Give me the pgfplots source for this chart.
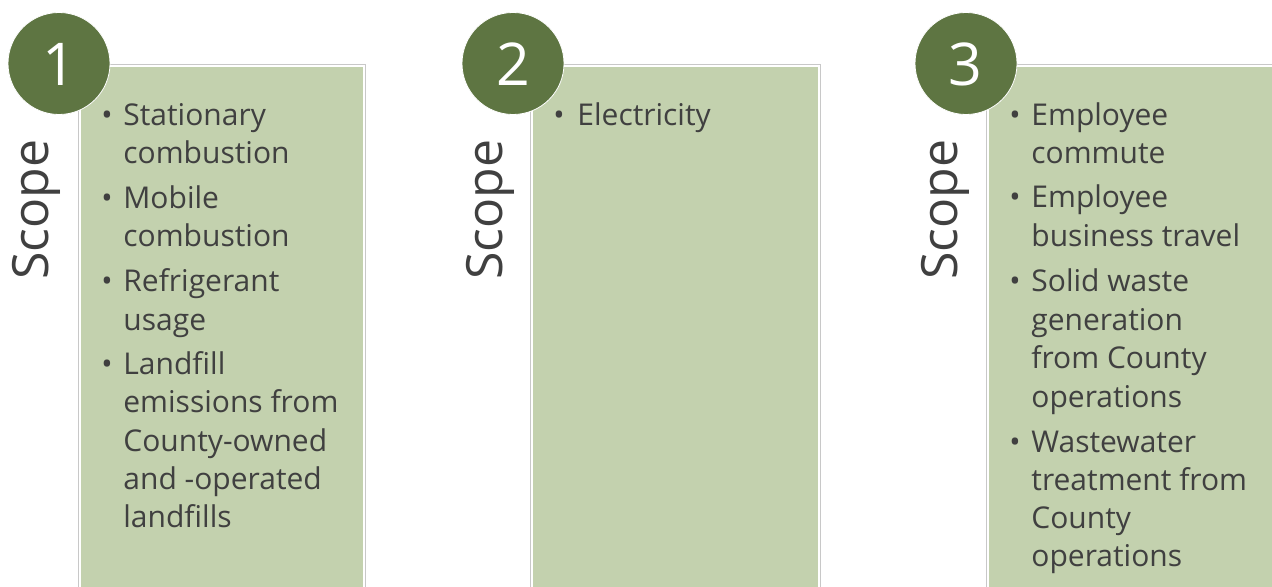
\documentclass[border=0pt]{standalone}
\usepackage{pgfplots}
\pgfplotsset{compat=1.18}
\usepackage{fontspec}
\setmainfont{Open Sans}
\definecolor{circ}{RGB}{94,117,66}
\definecolor{boxg}{RGB}{195,209,174}
\definecolor{boxe}{RGB}{200,200,200}
\definecolor{txt}{RGB}{64,64,64}
\begin{document}
\begin{tikzpicture}
\begin{axis}[
  scale only axis, width=636pt, height=293.5pt,
  xmin=0, xmax=1272, ymin=0, ymax=587, y dir=reverse,
  hide axis, clip=true, clip marker paths=true,
]
% invisible frame for the bounding box
\addplot[draw=none, forget plot] coordinates {(0,0) (1272,587)};
% boxes: outer frame and inner fill
\addplot[fill=white, draw=boxe, line width=0.5pt] coordinates {(78,65) (365,65) (365,600) (78,600)} -- cycle;
\addplot[fill=boxg, draw=none] coordinates {(80.5,67.5) (362.5,67.5) (362.5,600) (80.5,600)} -- cycle;
\addplot[fill=white, draw=boxe, line width=0.5pt] coordinates {(530,65) (820,65) (820,600) (530,600)} -- cycle;
\addplot[fill=boxg, draw=none] coordinates {(532.5,67.5) (817.5,67.5) (817.5,600) (532.5,600)} -- cycle;
\addplot[fill=white, draw=boxe, line width=0.5pt] coordinates {(986,65) (1290,65) (1290,600) (986,600)} -- cycle;
\addplot[fill=boxg, draw=none] coordinates {(988.5,67.5) (1290,67.5) (1290,600) (988.5,600)} -- cycle;
% circles
\addplot[only marks, mark=*, mark size=25.5pt, mark options={fill=circ, draw=white, line width=0.4pt}]
  coordinates {(59,63.5) (513,63.5) (966,63.5)};
% numbers
\begin{scope}[every node/.style={inner sep=0pt, text=white, font=\fontsize{29.5}{30}\selectfont}]
\node at (axis cs:59,64) {1};
\node at (axis cs:513,64) {2};
\node at (axis cs:965,64) {3};
\end{scope}
% Scope labels
\begin{scope}[every node/.style={inner sep=0pt, text=txt, rotate=90, anchor=base west, font=\fontsize{25}{27}\selectfont}]
\node at (axis cs:48,280) {Scope};
\node at (axis cs:502,280) {Scope};
\node at (axis cs:957,280) {Scope};
\end{scope}
\begin{scope}[every node/.style={inner sep=0pt, text=txt, font=\fontsize{15}{18}\selectfont, anchor=base west}]
% Box 1
\node at (axis cs:101,126) {•};
\node at (axis cs:123,126) {Stationary};
\node at (axis cs:123,164) {combustion};
\node at (axis cs:101,209) {•};
\node at (axis cs:123,209) {Mobile};
\node at (axis cs:123,247) {combustion};
\node at (axis cs:101,292) {•};
\node at (axis cs:123,292) {Refrigerant};
\node at (axis cs:123,330) {usage};
\node at (axis cs:101,374) {•};
\node at (axis cs:123,374) {Landfill};
\node at (axis cs:123,412) {emissions from};
\node at (axis cs:123,451) {County-owned};
\node at (axis cs:123,489) {and -operated};
\node at (axis cs:123,527) {landfills};
% Box 2
\node at (axis cs:553,126) {•};
\node at (axis cs:577,126) {Electricity};
% Box 3
\node at (axis cs:1009,126) {•};
\node at (axis cs:1031,126) {Employee};
\node at (axis cs:1031,164) {commute};
\node at (axis cs:1009,208) {•};
\node at (axis cs:1031,208) {Employee};
\node at (axis cs:1031,247) {business travel};
\node at (axis cs:1009,292) {•};
\node at (axis cs:1031,292) {Solid waste};
\node at (axis cs:1031,330) {generation};
\node at (axis cs:1031,368) {from County};
\node at (axis cs:1031,407) {operations};
\node at (axis cs:1009,452) {•};
\node at (axis cs:1031,452) {Wastewater};
\node at (axis cs:1031,490) {treatment from};
\node at (axis cs:1031,528) {County};
\node at (axis cs:1031,566) {operations};
\end{scope}
\end{axis}
\end{tikzpicture}
\end{document}
